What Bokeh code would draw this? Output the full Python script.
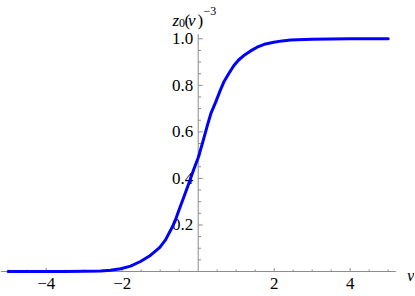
from bokeh.plotting import figure
from bokeh.models import Range1d, Label
from bokeh.core.properties import value
from bokeh.embed import file_html
from bokeh.resources import INLINE

# ---- data ----
v_vals = [-5, -4, -3.5, -3, -2.57, -2.31, -2.04, -1.78, -1.52, -1.26, -1.01, -0.86, -0.73,
          -0.62, -0.51, -0.38, -0.25, -0.12, 0.0, 0.12, 0.24, 0.34, 0.46, 0.57, 0.67, 0.81,
          0.94, 1.07, 1.2, 1.38, 1.55, 1.77, 1.99, 2.21, 2.43, 3.0, 3.5, 4.0, 5.0]
z_vals = [0.0, 0.0, 0.0005, 0.001, 0.002, 0.005, 0.012, 0.023, 0.043, 0.069, 0.104, 0.136, 0.176,
          0.212, 0.262, 0.319, 0.377, 0.437, 0.489, 0.556, 0.627, 0.682, 0.728, 0.774, 0.813, 0.852,
          0.885, 0.91, 0.928, 0.948, 0.964, 0.978, 0.985, 0.991, 0.995, 0.998, 0.999, 1.0, 1.0]

x_major = [-4, -2, 2, 4]
x_major_labels = ["\u22124", "\u22122", "2", "4"]
x_minor = [-5, -4.5, -3.5, -3, -2.5, -1.5, -1, -0.5, 0.5, 1, 1.5, 2.5, 3, 3.5, 4.5, 5]
y_major = [0.2, 0.4, 0.6, 0.8, 1.0]
y_major_labels = ["0.2", "0.4", "0.6", "0.8", "1.0"]
y_minor = [0.05, 0.1, 0.15, 0.25, 0.3, 0.35, 0.45, 0.5, 0.55, 0.65, 0.7, 0.75,
           0.85, 0.9, 0.95]

# ---- geometry (page pixels -> data) ----
OFF = 0                  # page offset of the figure
X0, SX = 197.7, 38.0     # page x of v=0, px per unit
Y0, SY = 271.0, 232.7    # page y of z=0, px per unit
W, H = 414, 295

def px2x(px):
    return (px - X0) / SX

def py2y(py):
    return (Y0 - py) / SY

p = figure(width=W, height=H,
           x_range=Range1d(px2x(OFF), px2x(OFF + W)),
           y_range=Range1d(py2y(OFF + H), py2y(OFF)),
           output_backend="svg", toolbar_location=None,
           x_axis_type=None, y_axis_type=None, min_border=0)
p.outline_line_color = None
p.background_fill_color = "white"
p.border_fill_color = "white"

AX = "#8c8c8c"
FONT = "Liberation Serif"

# axis lines
p.segment(x0=[-5.2, 0], y0=[0, 0], x1=[5.2, 0], y1=[0, 1.02], line_color=AX, line_width=1)

# x ticks (pointing up)
p.segment(x0=x_major, y0=[0] * len(x_major), x1=x_major, y1=[3.5 / SY] * len(x_major),
          line_color=AX, line_width=1)
p.segment(x0=x_minor, y0=[0] * len(x_minor), x1=x_minor, y1=[2.0 / SY] * len(x_minor),
          line_color=AX, line_width=1)
# y ticks (pointing right)
p.segment(x0=[0] * len(y_major), y0=y_major, x1=[4.5 / SX] * len(y_major), y1=y_major,
          line_color=AX, line_width=1)
p.segment(x0=[0] * len(y_minor), y0=y_minor, x1=[2.8 / SX] * len(y_minor), y1=y_minor,
          line_color=AX, line_width=1)

# tick labels
p.text(x=x_major, y=[0] * len(x_major), text=x_major_labels, text_align="center",
       text_baseline="top", y_offset=6, text_font=value(FONT), text_font_size="17px",
       text_color="black")
p.text(x=[0] * len(y_major), y=y_major, text=y_major_labels, text_align="right",
       text_baseline="middle", x_offset=-5, text_font=value(FONT), text_font_size="17px",
       text_color="black")

# curve
p.line(v_vals, z_vals, line_color="#0000ff", line_width=3, line_join="round", line_cap="round")

# axis labels
def lab(txt, px, py, size="17px", style="normal"):
    p.add_layout(Label(x=px2x(px), y=py2y(py), text=txt, text_font=FONT,
                       text_font_size=size, text_font_style=style, text_color="black",
                       text_baseline="alphabetic", text_align="left"))

lab("z", 172, 20, style="italic")
lab("0", 178.5, 22.5, size="12px")
lab("(", 184, 20)
lab("v", 187.5, 20, style="italic")
lab(")", 197, 20)
lab("\u22123", 203, 10.5, size="12px")
lab("v", 406.5, 275, style="italic")

open("out.html", "w").write(file_html(p, INLINE))
